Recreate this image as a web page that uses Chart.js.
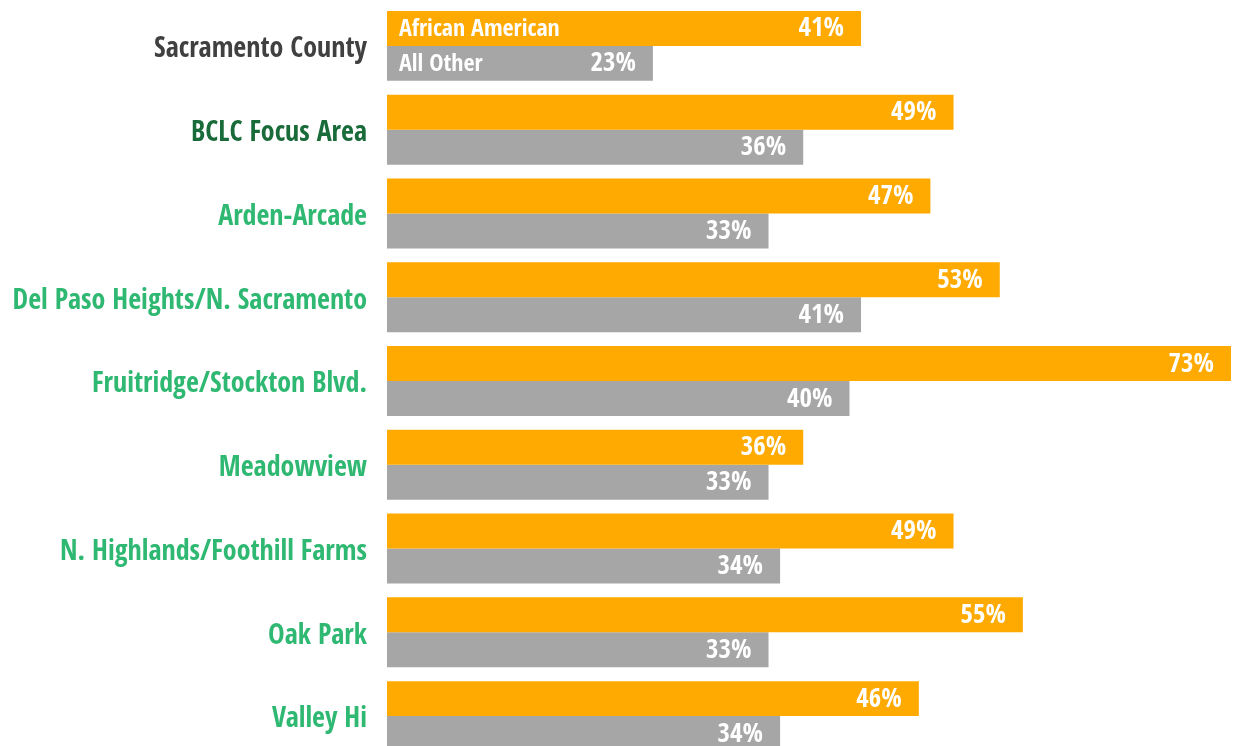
<!DOCTYPE html>
<html>
<head>
<meta charset="utf-8">
<script src="https://cdn.jsdelivr.net/npm/chart.js@4/dist/chart.umd.min.js"></script>
<style>
  html, body { margin: 0; padding: 0; background: #fff; overflow: hidden; }
</style>
</head>
<body>
<canvas id="grafico" width="1233" height="762"></canvas>
<script>
const categorias = [
  'Sacramento County',
  'BCLC Focus Area',
  'Arden-Arcade',
  'Del Paso Heights/N. Sacramento',
  'Fruitridge/Stockton Blvd.',
  'Meadowview',
  'N. Highlands/Foothill Farms',
  'Oak Park',
  'Valley Hi'
];
const africanAmerican = [41, 49, 47, 53, 73, 36, 49, 55, 46];
const allOther = [23, 36, 33, 41, 40, 33, 34, 33, 34];
const coloresEtiqueta = ['#404040', '#1a6b3a', '#2fb872', '#2fb872', '#2fb872', '#2fb872', '#2fb872', '#2fb872', '#2fb872'];

const FAMILIA = "'Open Sans Condensed', 'Open Sans', 'Liberation Sans Narrow', sans-serif";

// etiquetas dentro de las barras
const etiquetasBarras = {
  id: 'etiquetasBarras',
  afterDatasetsDraw(chart) {
    const ctx = chart.ctx;
    ctx.save();
    ctx.fillStyle = '#fff';
    ctx.textBaseline = 'middle';
    chart.data.datasets.forEach((ds, i) => {
      const meta = chart.getDatasetMeta(i);
      meta.data.forEach((bar, j) => {
        ctx.font = 'bold condensed 27px ' + FAMILIA;
        ctx.textAlign = 'right';
        ctx.fillText(ds.data[j] + '%', bar.x - 17, bar.y + 1);
        if (j === 0) {
          ctx.font = 'bold condensed 24px ' + FAMILIA;
          ctx.textAlign = 'left';
          ctx.fillText(ds.label, bar.base + 12, bar.y + 1);
        }
      });
    });
    ctx.restore();
  }
};

new Chart(document.getElementById('grafico'), {
  type: 'bar',
  data: {
    labels: categorias,
    datasets: [
      { label: 'African American', data: africanAmerican, backgroundColor: '#ffaa00' },
      { label: 'All Other', data: allOther, backgroundColor: '#a6a6a6' }
    ]
  },
  options: {
    indexAxis: 'y',
    responsive: false,
    animation: false,
    layout: { padding: { top: 4, bottom: 4, right: 2 } },
    datasets: {
      bar: { categoryPercentage: 0.835, barPercentage: 1 }
    },
    plugins: {
      legend: { display: false },
      tooltip: { enabled: false }
    },
    scales: {
      x: { display: false, min: 0, max: 73 },
      y: {
        afterFit: scale => {
          scale.width = 387;
          scale.paddingTop = 0;
          scale.paddingBottom = 0;
        },
        border: { display: false },
        grid: { display: false, drawTicks: false },
        ticks: {
          padding: 20,
          labelOffset: 4,
          color: ctx => coloresEtiqueta[ctx.index],
          font: { family: FAMILIA, size: 28, weight: 'bold condensed' }
        }
      }
    }
  },
  plugins: [etiquetasBarras]
});
</script>
</body>
</html>
